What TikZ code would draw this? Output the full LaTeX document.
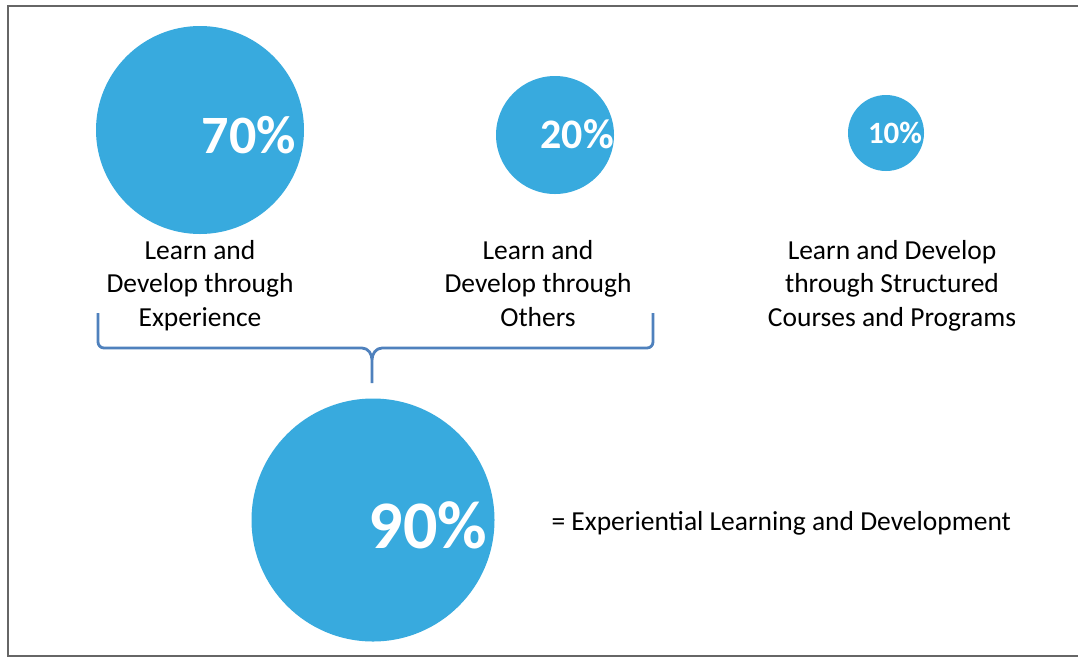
\documentclass[tikz,border=0pt]{standalone}
\usepackage{fontspec}
\setmainfont{Carlito}
\usepackage{tikz}
\usetikzlibrary{positioning}
\definecolor{dotblue}{RGB}{56,170,222}
\definecolor{bracecol}{RGB}{79,129,189}
\tikzset{
x=1pt, y=-1pt, % one unit is one pixel, y grows downwards
dot/.style={circle, fill=dotblue, inner sep=0pt}, % the blue discs
pct/.style={text=white, font=\bfseries}, % percentages inside the discs
caption/.style={align=center, anchor=north, font=\fontsize{27.5}{33.5}\selectfont}, % text under the discs
}

\begin{document}
\begin{tikzpicture}
    \useasboundingbox[fill=white] (0,0) rectangle (1078,657);
    \draw[gray!80!black, line width=1.6pt] (1078,6) -- (8,6) -- (8,656) -- (1078,656);
    % discs
    \node[dot, minimum size=208] (c70) at (200,130) {};
    \node[dot, minimum size=118] (c20) at (555,135) {};
    \node[dot, minimum size=76] (c10) at (886,133) {};
    \node[dot, minimum size=243] (c90) at (373,520) {};
    % percentages
    \node[pct, font=\bfseries\fontsize{54}{54}\selectfont] (p70) at (249,135) {70\%};
    \node[pct, font=\bfseries\fontsize{42}{42}\selectfont] (p20) at (577,134) {20\%};
    \node[pct, font=\bfseries\fontsize{31}{31}\selectfont] (p10) at (895,133) {10\%};
    \node[pct, font=\bfseries\fontsize{68}{68}\selectfont] (p90) at (428,525) {90\%};
    % captions
    \node[caption] (t70) at (200,236.5) {Learn and\\Develop through\\Experience};
    \node[caption] (t20) at (538,236.5) {Learn and\\Develop through\\Others};
    \node[caption] (t10) at (892,236.5) {Learn and Develop\\through Structured\\Courses and Programs};
    \node[caption, anchor=west] (t90) at (548,523) {= Experiential Learning and Development};
    % brace joining the first two
    \coordinate (bl) at (98,313);
    \coordinate (br) at (653,313);
    \coordinate (bm) at (372,383);
    \draw[bracecol, line width=2.8pt, line join=round]
        (bl) -- (98,342) to[out=-90,in=180] (104,348) -- (362,348)
        to[out=0,in=90] (bm |- 0,360) -- (bm)
        (bm |- 0,360) to[out=90,in=180] (382,348) -- (647,348)
        to[out=0,in=-90] (653,342) -- (br);
\end{tikzpicture}
\end{document}
